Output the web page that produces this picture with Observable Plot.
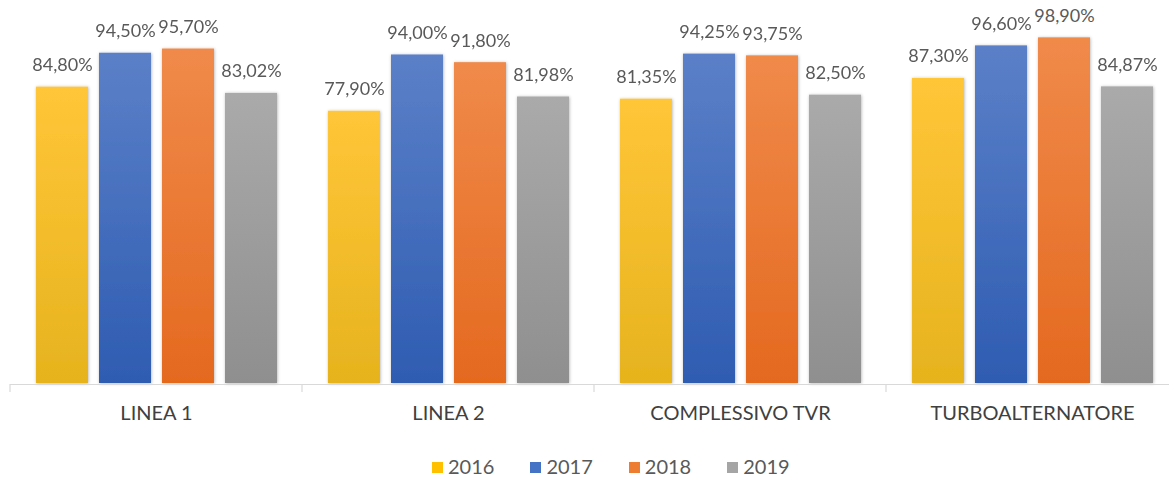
<!DOCTYPE html>
<html><head><meta charset="utf-8">
<script src="https://cdn.jsdelivr.net/npm/d3@7"></script>
<script src="https://cdn.jsdelivr.net/npm/@observablehq/plot@0.6"></script>
<style>
html,body{margin:0;padding:0;background:#fff;overflow:hidden;width:1169px;height:477px;position:relative}
#chart svg text{font-family:Lato,"Open Sans",sans-serif}
#chart svg g[aria-label^="fx-axis"] text, #chart svg g[aria-label^="fx-axis"]{font-size:20px;fill:#404040}
#legend{position:absolute;left:432px;top:456px;height:20px;line-height:20px;display:flex;align-items:center;gap:36px;font-family:Lato,sans-serif;font-size:20px;color:#595959}
#legend .item{display:flex;align-items:center}
#legend .sw{width:11px;height:11px;margin-right:5px;margin-top:2px}
</style></head><body><div id="chart"></div><div id="legend"></div>
<script>
const categories = ["LINEA 1", "LINEA 2", "COMPLESSIVO TVR", "TURBOALTERNATORE"];
const years = ["2016", "2017", "2018", "2019"];
const v2016 = [84.80, 77.90, 81.35, 87.30];
const v2017 = [94.50, 94.00, 94.25, 96.60];
const v2018 = [95.70, 91.80, 93.75, 98.90];
const v2019 = [83.02, 81.98, 82.50, 84.87];
const series = {"2016": v2016, "2017": v2017, "2018": v2018, "2019": v2019};
// gradient stops per year: [top, bottom]
const gradients = {"2016": ["#FFC638", "#E6B31E"], "2017": ["#5B80C8", "#2E5CB1"], "2018": ["#F08A4A", "#E4691F"], "2019": ["#AAAAAA", "#8F8F8F"]};
const swatch = {"2016": "#FFC000", "2017": "#4472C4", "2018": "#ED7D31", "2019": "#A5A5A5"};

const data = [];
categories.forEach((c, i) => years.forEach(y => data.push({cat: c, year: y, value: series[y][i]})));
const fmt = v => v.toFixed(2).replace(".", ",") + "%";

const plot = Plot.plot({
  width: 1178, height: 445,
  marginLeft: 10, marginRight: 0, marginTop: 33.5, marginBottom: 62,
  style: {maxWidth: "none", overflow: "visible", background: "#fff", color: "#404040"},
  fx: {domain: categories, padding: 0, axis: "bottom", label: null, tickSize: 0, tickPadding: 22},
  x: {domain: years, paddingInner: 0.18, paddingOuter: 0.39, axis: null},
  y: {domain: [0, 100], axis: null},
  color: {type: "ordinal", domain: years, range: years.map(y => `url(#grad${y})`)},
  marks: [
    Plot.barY(data, {fx: "cat", x: "year", y: "value", fill: "year"}),
    Plot.ruleY([0], {stroke: "#d9d9d9", strokeWidth: 1.2, dy: 1}),
    Plot.text(data, {fx: "cat", x: "year", y: "value", text: d => fmt(d.value), lineAnchor: "bottom", dy: -16, fontSize: 18, fill: "#595959"})
  ]
});
document.getElementById("chart").appendChild(plot);

const svg = d3.select(plot);
const defs = svg.insert("defs", ":first-child");
years.forEach(y => {
  const g = defs.append("linearGradient").attr("id", `grad${y}`).attr("x1", 0).attr("y1", 0).attr("x2", 0).attr("y2", 1);
  g.append("stop").attr("offset", "0%").attr("stop-color", gradients[y][0]);
  g.append("stop").attr("offset", "100%").attr("stop-color", gradients[y][1]);
});
const f = defs.append("filter").attr("id", "shadow").attr("x", "-20%").attr("y", "-5%").attr("width", "140%").attr("height", "110%");
f.append("feDropShadow").attr("dx", 0.5).attr("dy", 0.5).attr("stdDeviation", 1.6).attr("flood-color", "#000").attr("flood-opacity", 0.3);
svg.selectAll('g[aria-label="bar"]').attr("filter", "url(#shadow)");

// category boundary ticks
const fx = plot.scale("fx"), ys = plot.scale("y");
const y0 = ys.apply(0) + 1;
const bounds = categories.map(c => fx.apply(c)).concat([fx.apply(categories[categories.length - 1]) + fx.bandwidth]);
svg.append("g").selectAll("line").data(bounds).join("line")
  .attr("x1", d => d).attr("x2", d => d).attr("y1", y0).attr("y2", y0 + 8)
  .attr("stroke", "#d9d9d9").attr("stroke-width", 1.2);

const legend = d3.select("#legend");
years.forEach(y => {
  const it = legend.append("div").attr("class", "item");
  it.append("div").attr("class", "sw").style("background", swatch[y]);
  it.append("span").text(y);
});
</script></body></html>
